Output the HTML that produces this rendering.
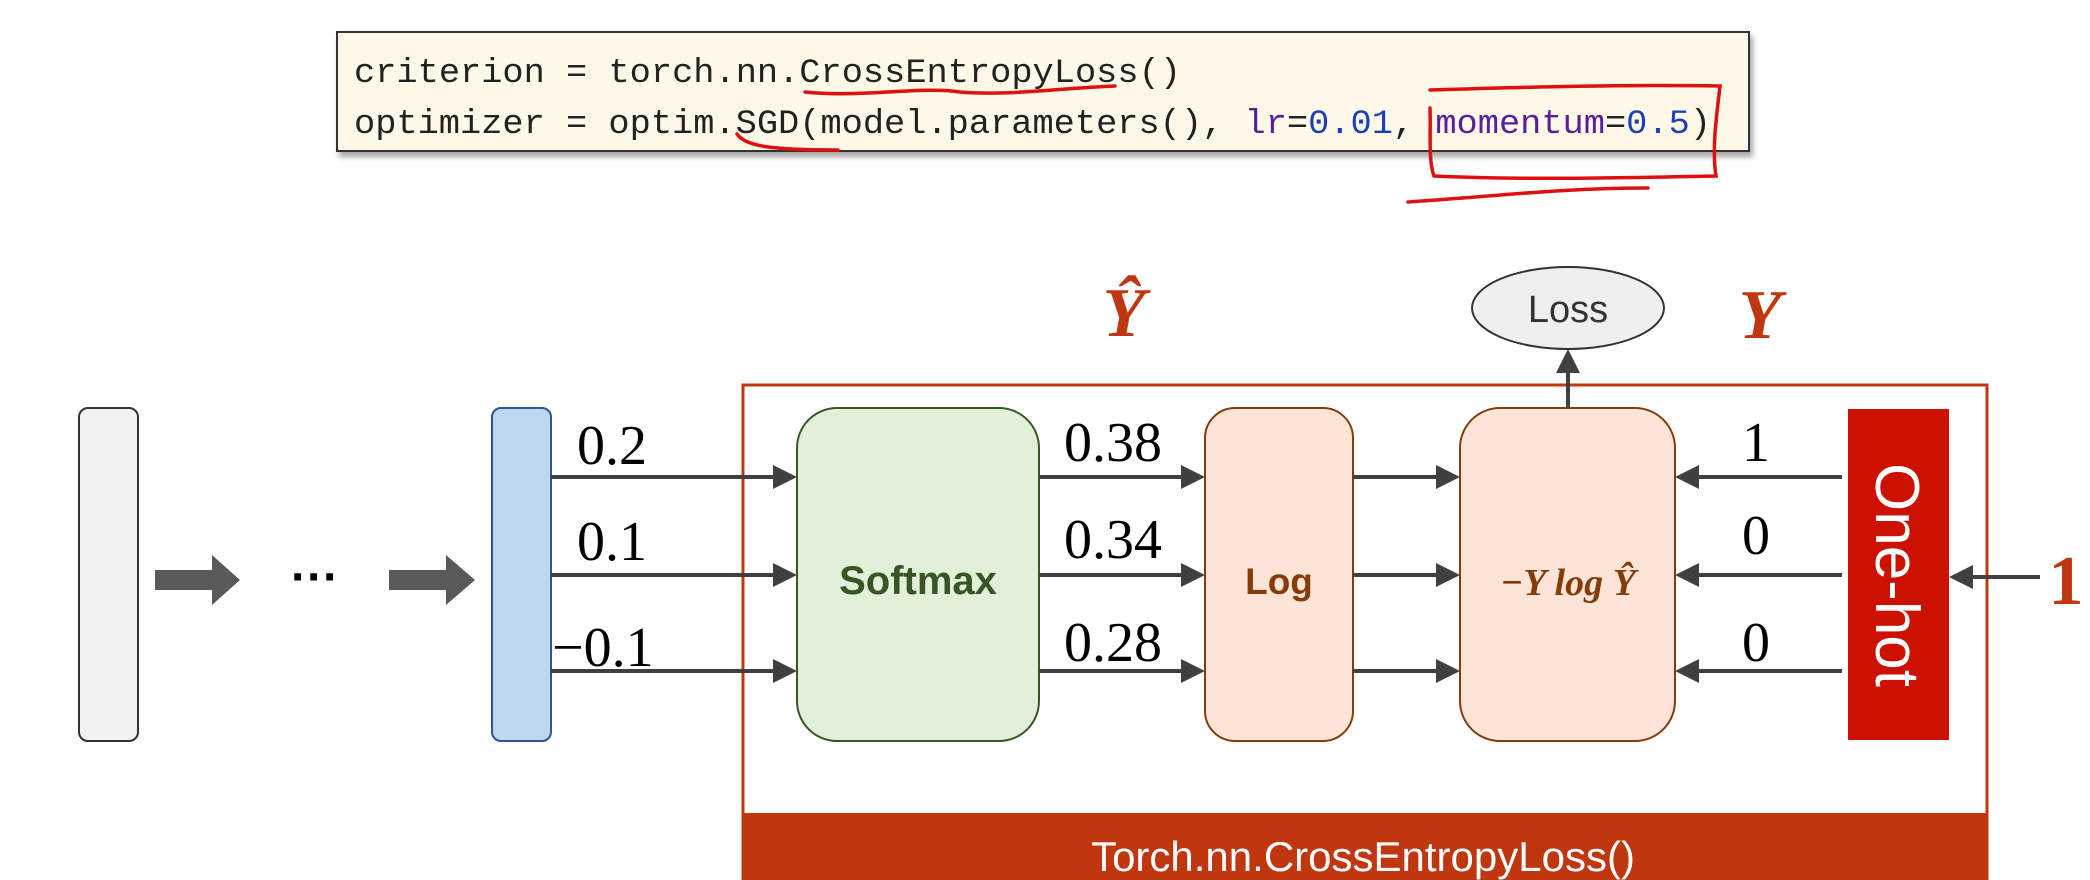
<!DOCTYPE html>
<html><head><meta charset="utf-8"><style>
html,body{margin:0;padding:0;background:#fff;}
svg{display:block}
</style></head><body>
<svg width="2090" height="880" viewBox="0 0 2090 880" xmlns="http://www.w3.org/2000/svg">
<defs>
<marker id="ah" markerWidth="6" markerHeight="6" refX="5" refY="3" orient="auto" markerUnits="strokeWidth">
<path d="M0,0 L6,3 L0,6 Z" fill="#404040"/></marker>
<filter id="sh" x="-5%" y="-20%" width="110%" height="150%"><feDropShadow dx="3" dy="5" stdDeviation="3" flood-color="#000" flood-opacity="0.35"/></filter>
</defs>
<rect x="337" y="32" width="1412" height="119" fill="#fdf8e8" stroke="#333" stroke-width="2" filter="url(#sh)"/>
<g font-family="Liberation Mono, monospace" font-size="34" fill="#222">
<text x="354" y="82" textLength="827" lengthAdjust="spacingAndGlyphs">criterion = torch.nn.CrossEntropyLoss()</text>
<text x="354" y="133" textLength="1357" lengthAdjust="spacingAndGlyphs">optimizer = optim.SGD(model.parameters(), <tspan fill="#5a1e9a">lr</tspan>=<tspan fill="#1d3fb5">0.01</tspan>, <tspan fill="#5a1e9a">momentum</tspan>=<tspan fill="#1d3fb5">0.5</tspan>)</text>
</g>
<g fill="none" stroke="#e01010" stroke-width="3.5" stroke-linecap="round">
<path d="M805,92 C860,98 920,86 960,92 C1010,96 1060,88 1115,86"/>
<path d="M737,134 C745,146 770,150 838,150"/>
<path d="M1430,108 C1431,130 1428,160 1434,176 M1430,90 C1500,88 1620,84 1720,86 C1716,120 1712,150 1716,176 C1620,178 1520,180 1434,176"/>
<path d="M1408,202 C1500,196 1560,188 1648,188"/>
</g>
<rect x="743" y="385" width="1244" height="500" fill="#fff" stroke="#c0360f" stroke-width="3"/>
<rect x="743" y="813" width="1244" height="70" fill="#c0360f"/>
<text x="1363" y="871" font-family="Liberation Sans, sans-serif" font-size="42" fill="#fff" text-anchor="middle">Torch.nn.CrossEntropyLoss()</text>
<rect x="79" y="408" width="59" height="333" rx="9" fill="#f2f2f2" stroke="#333" stroke-width="2"/>
<rect x="492" y="408" width="59" height="333" rx="9" fill="#bdd7ee" stroke="#2f5597" stroke-width="2"/>
<polygon points="155,570 212,570 212,555 240,580 212,605 212,590 155,590" fill="#595959"/>
<polygon points="389,570 446,570 446,555 475,580 446,605 446,590 389,590" fill="#595959"/>
<text x="315" y="593" font-family="Liberation Sans, sans-serif" font-size="48" font-weight="bold" fill="#000" text-anchor="middle">···</text>
<rect x="797" y="408" width="242" height="333" rx="40" fill="#e2efd9" stroke="#385723" stroke-width="2"/>
<text x="918" y="594" font-family="Liberation Sans, sans-serif" font-size="40" font-weight="bold" fill="#375623" text-anchor="middle">Softmax</text>
<rect x="1205" y="408" width="148" height="333" rx="30" fill="#fce4d6" stroke="#843c0c" stroke-width="2"/>
<text x="1279" y="594" font-family="Liberation Sans, sans-serif" font-size="37" font-weight="bold" fill="#843c0c" text-anchor="middle">Log</text>
<rect x="1460" y="408" width="215" height="333" rx="40" fill="#fce4d6" stroke="#843c0c" stroke-width="2"/>
<text x="1568" y="595" font-family="Liberation Serif, serif" font-size="38" font-weight="bold" font-style="italic" fill="#843c0c" text-anchor="middle">−Y log Ŷ</text>
<rect x="1848" y="409" width="101" height="331" fill="#cc1100"/>
<text transform="translate(1876,575) rotate(90)" font-family="Liberation Sans, sans-serif" font-size="62" fill="#fff" text-anchor="middle">One-hot</text>
<g stroke="#404040" stroke-width="4" marker-end="url(#ah)">
<line x1="551" y1="477" x2="793" y2="477"/><line x1="551" y1="575" x2="793" y2="575"/><line x1="551" y1="671" x2="793" y2="671"/>
<line x1="1039" y1="477" x2="1201" y2="477"/><line x1="1039" y1="575" x2="1201" y2="575"/><line x1="1039" y1="671" x2="1201" y2="671"/>
<line x1="1353" y1="477" x2="1456" y2="477"/><line x1="1353" y1="575" x2="1456" y2="575"/><line x1="1353" y1="671" x2="1456" y2="671"/>
<line x1="1842" y1="477" x2="1679" y2="477"/><line x1="1842" y1="575" x2="1679" y2="575"/><line x1="1842" y1="671" x2="1679" y2="671"/>
<line x1="2040" y1="577" x2="1953" y2="577"/>
<line x1="1568" y1="407" x2="1568" y2="353"/>
</g>
<g font-family="Liberation Serif, serif" font-size="56" fill="#000">
<text x="577" y="464">0.2</text><text x="577" y="560">0.1</text><text x="552" y="666">−0.1</text>
<text x="1064" y="461">0.38</text><text x="1064" y="558">0.34</text><text x="1064" y="661">0.28</text>
<text x="1742" y="461">1</text><text x="1742" y="554">0</text><text x="1742" y="661">0</text>
</g>
<ellipse cx="1568" cy="308" rx="96" ry="41" fill="#efefef" stroke="#333" stroke-width="2"/>
<text x="1568" y="322" font-family="Liberation Sans, sans-serif" font-size="38" fill="#333" text-anchor="middle">Loss</text>
<g font-family="Liberation Serif, serif" font-size="70" font-weight="bold" font-style="italic" fill="#c0360f">
<text x="1124" y="336" text-anchor="middle">Ŷ</text>
<text x="1760" y="338" text-anchor="middle">Y</text>
<text x="2066" y="604" text-anchor="middle" font-style="normal">1</text>
</g>
</svg>
</body></html>
